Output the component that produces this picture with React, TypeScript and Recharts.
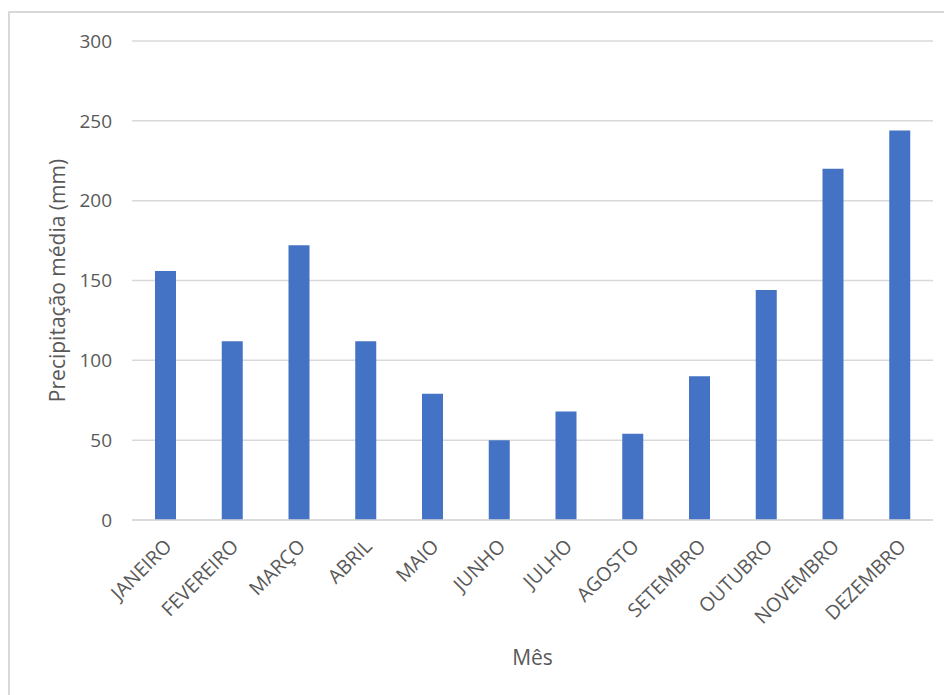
import { Bar, BarChart, CartesianGrid, Label, XAxis, YAxis } from 'recharts'

const MONTHS = [
  'JANEIRO', 'FEVEREIRO', 'MARÇO', 'ABRIL', 'MAIO', 'JUNHO',
  'JULHO', 'AGOSTO', 'SETEMBRO', 'OUTUBRO', 'NOVEMBRO', 'DEZEMBRO',
]
const RAIN = [156, 112, 172, 112, 79, 50, 68, 54, 90, 144, 220, 244]
const Y_TICKS = [0, 50, 100, 150, 200, 250, 300]

const data = MONTHS.map((m, i) => ({ month: m, rain: RAIN[i] }))

const FONT = '"Open Sans", "Liberation Sans", sans-serif'
const TEXT = '#595959'
const GRID = '#d9d9d9'

function MonthTick({ x, y, payload }: any) {
  return (
    <g transform={`translate(${x + 4},${y + 16})`}>
      <text
        transform="rotate(-45)"
        textAnchor="end"
        fill={TEXT}
        fontSize={19.5}
        fontFamily={FONT}
        dy={5}
      >
        {payload.value}
      </text>
    </g>
  )
}

export default function App() {
  return (
    <div style={{ position: 'absolute', left: 0, top: 0, width: 944, height: 695, background: '#fff', overflow: 'hidden' }}>
      <div
        style={{
          position: 'absolute', left: 8, top: 11, width: 1000, height: 800,
          border: `2px solid ${GRID}`, boxSizing: 'border-box',
        }}
      />
      <BarChart
        width={944}
        height={695}
        data={data}
        margin={{ top: 41, right: 11, bottom: 0, left: 0 }}
        style={{ position: 'absolute', left: 0, top: 0 }}
      >
        <CartesianGrid vertical={false} stroke={GRID} strokeWidth={1.5} />
        <XAxis
          dataKey="month"
          interval={0}
          tickLine={false}
          axisLine={{ stroke: GRID, strokeWidth: 1.5 }}
          tick={<MonthTick />}
          height={175}
        >
          <Label
            content={({ viewBox }: any) => (
              <text
                x={viewBox.x + viewBox.width / 2}
                y={657}
                textAnchor="middle"
                dominantBaseline="central"
                fill={TEXT}
                fontSize={21}
                fontFamily={FONT}
              >
                Mês
              </text>
            )}
          />
        </XAxis>
        <YAxis
          width={132}
          domain={[0, 300]}
          ticks={Y_TICKS}
          tickLine={false}
          axisLine={false}
          tickMargin={14}
          tick={{ fill: TEXT, fontSize: 19, fontFamily: FONT }}
        >
          <Label
            content={({ viewBox }: any) => {
              const cx = viewBox.x + 57
              const cy = viewBox.y + viewBox.height / 2
              return (
                <text
                  x={cx}
                  y={cy}
                  transform={`rotate(-90 ${cx} ${cy})`}
                  textAnchor="middle"
                  dominantBaseline="central"
                  fill={TEXT}
                  fontSize={21}
                  fontFamily={FONT}
                >
                  Precipitação média (mm)
                </text>
              )
            }}
          />
        </YAxis>
        <Bar dataKey="rain" fill="#4472C4" barSize={21} isAnimationActive={false} />
      </BarChart>
    </div>
  )
}
